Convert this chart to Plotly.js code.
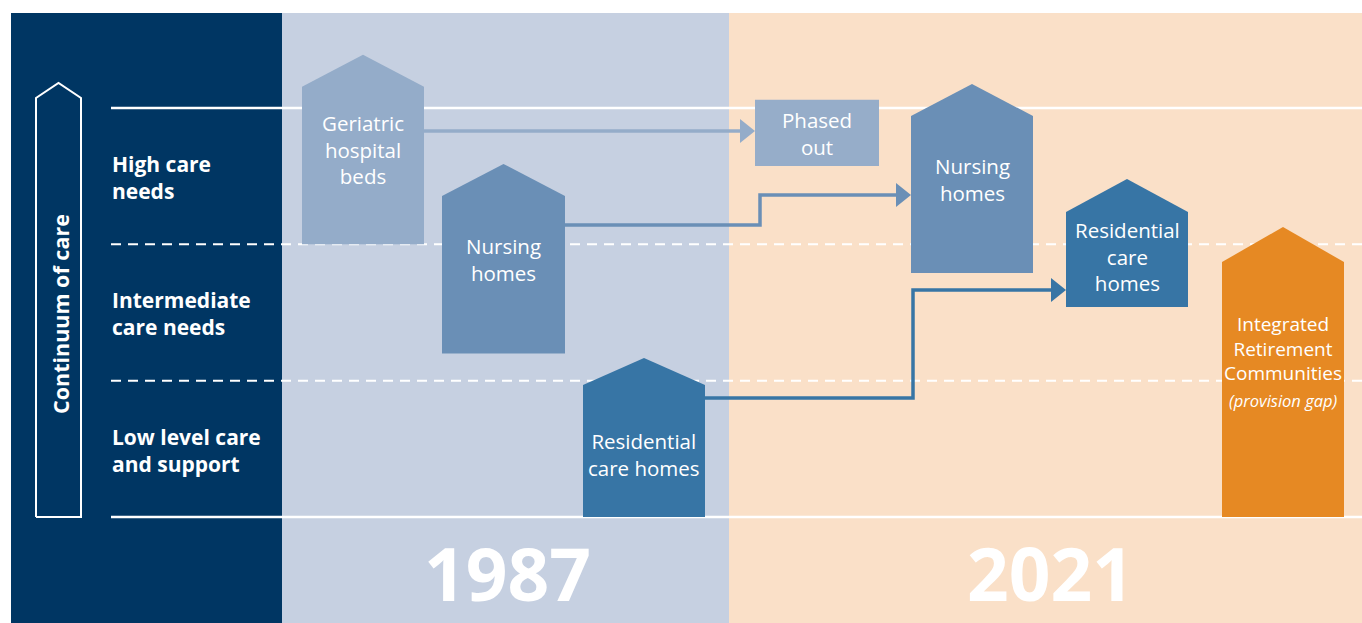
<!DOCTYPE html>
<html>
<head>
<meta charset="utf-8">
<script src="https://cdn.plot.ly/plotly-3.0.1.min.js"></script>
<style>html,body{margin:0;padding:0;background:#fff;}#chart{width:1362px;height:623px;}</style>
</head>
<body>
<div id="chart"></div>
<script>
// ---------- DATA (care-need levels: 0 = low, 3 = high) ----------
const careLevels = ["Low level care<br>and support", "Intermediate<br>care needs", "High care<br>needs"];
const eras = ["1987", "2021"];
const provision = ["Geriatric<br>hospital<br>beds", "Nursing<br>homes", "Residential<br>care homes",
                   "Phased<br>out", "Nursing<br>homes", "Residential<br>care<br>homes",
                   "Integrated<br>Retirement<br>Communities"];
const provisionNote = ["", "", "", "", "", "", "(provision gap)"];
const provisionEra = ["1987", "1987", "1987", "2021", "2021", "2021", "2021"];
const needFrom = [2.0, 1.2, 0.0, 2.575, 1.79, 1.54, 0.0];
const needTo   = [3.39, 2.59, 1.166, 3.06, 3.176, 2.479, 2.127];
const flowFrom = [0, 1, 2];
const flowTo   = [3, 4, 5];

// ---------- LAYOUT / STYLE ----------
const W = 1362, H = 623;
const unit = (517 - 108) / 3;            // px per care level
const yMin = -(H - 517) / unit, yMax = 517 / unit;
const pxY = v => v / unit;               // px length -> level length
const navy = "rgb(0,54,99)", paleBlue = "rgb(198,208,225)", peach = "rgb(250,224,200)";
const colX = [363, 503.5, 644, 817, 972, 1127, 1283];
const colW = [122, 123, 122, 124, 122, 122, 122];
const isRoofed = [true, true, true, false, true, true, true];
const fillCol = ["rgb(148,172,201)", "rgb(106,143,182)", "rgb(55,117,165)", "rgb(150,173,201)",
                 "rgb(106,143,182)", "rgb(55,117,165)", "rgb(230,137,35)"];
const roofH = [32, 32, 27, 0, 32, 33, 35];
const textY = [2.692, 1.889, 0.458, 2.813, 2.476, 1.911, 1.235];
const flowStartY = [2.831, 2.142, 0.873];
const flowEndY   = [2.831, 2.362, 1.665];
const flowTurnX  = [null, 760, 913];
const eraX = [507, 1050];
const font = "Open Sans, Noto Sans, sans-serif";

const traces = [];
const shapes = [];
const ann = [];

// panels
shapes.push({type:"rect", layer:"below", xref:"x", yref:"y", x0:11, x1:282, y0:yMin-1, y1:(517-13)/unit, fillcolor:navy, line:{width:0}});
shapes.push({type:"rect", layer:"below", xref:"x", yref:"y", x0:282, x1:729, y0:yMin-1, y1:(517-13)/unit, fillcolor:paleBlue, line:{width:0}});
shapes.push({type:"rect", layer:"below", xref:"x", yref:"y", x0:729, x1:W+5, y0:yMin-1, y1:(517-13)/unit, fillcolor:peach, line:{width:0}});

// level lines
for (let lv = 0; lv <= careLevels.length; lv++) {
  const solid = (lv === 0 || lv === careLevels.length);
  traces.push({type:"scatter", mode:"lines", x:[111, W+5], y:[lv, lv], hoverinfo:"skip",
    line:{color:"white", width:solid ? 2.5 : 2, dash:solid ? "solid" : "10px,7px"}});
}

// continuum arrow outline
traces.push({type:"scatter", mode:"lines", hoverinfo:"skip",
  x:[36, 36, 58.5, 81, 81, 36], y:[0, pxY(517-98), pxY(517-83), pxY(517-98), 0, 0],
  line:{color:"white", width:2}});

// flows (arrows)
flowFrom.forEach((s, i) => {
  const t = flowTo[i];
  const xs = colX[s] + colW[s] / 2, xe = colX[t] - colW[t] / 2;
  const ah = 15;
  let px, py;
  if (flowTurnX[i] === null) { px = [xs, xe - ah + 1]; py = [flowStartY[i], flowEndY[i]]; }
  else { px = [xs, flowTurnX[i], flowTurnX[i], xe - ah + 1]; py = [flowStartY[i], flowStartY[i], flowEndY[i], flowEndY[i]]; }
  traces.push({type:"scatter", mode:"lines", x:px, y:py, hoverinfo:"skip",
    line:{color:fillCol[s], width:3.5, shape:"linear"}});
  traces.push({type:"scatter", mode:"lines", fill:"toself", fillcolor:fillCol[s], hoverinfo:"skip",
    x:[xe - ah, xe, xe - ah, xe - ah], y:[flowEndY[i] + pxY(12), flowEndY[i], flowEndY[i] - pxY(12), flowEndY[i] + pxY(12)],
    line:{width:0, color:fillCol[s]}});
});

// houses / boxes
provision.forEach((name, i) => {
  const l = colX[i] - colW[i] / 2, r = colX[i] + colW[i] / 2;
  const b = needFrom[i], top = needTo[i];
  let xs, ys;
  if (isRoofed[i]) {
    const sh = top - pxY(roofH[i]);
    xs = [l, l, colX[i], r, r, l]; ys = [b, sh, top, sh, b, b];
  } else {
    xs = [l, l, r, r, l]; ys = [b, top, top, b, b];
  }
  traces.push({type:"scatter", mode:"lines", fill:"toself", fillcolor:fillCol[i], x:xs, y:ys,
    line:{width:0, color:fillCol[i]}, hoverinfo:"skip"});
  const small = provisionNote[i] !== "";
  ann.push({xref:"x", yref:"y", x:colX[i], y:textY[i], text:name, showarrow:false,
    xanchor:"center", yanchor:"middle", align:"center",
    font:{family:font, size:small ? 19 : 20.5, color:"white"}});
  if (small) {
    ann.push({xref:"x", yref:"y", x:colX[i], y:textY[i] - pxY(52), text:"<i>" + provisionNote[i] + "</i>", showarrow:false,
      xanchor:"center", yanchor:"middle", font:{family:font, size:16.5, color:"white"}});
  }
});

// row labels
careLevels.forEach((lab, i) => {
  ann.push({xref:"x", yref:"y", x:110, y:i + 0.49, text:"<b>" + lab + "</b>", showarrow:false,
    xanchor:"left", yanchor:"middle", align:"left", font:{family:font, size:21, color:"white"}});
});

// continuum label
ann.push({xref:"x", yref:"y", x:60, y:pxY(517-314), text:"<b>Continuum of care</b>", textangle:-90, showarrow:false,
  xanchor:"center", yanchor:"middle", font:{family:font, size:21.5, color:"white"}});

// era labels
eras.forEach((e, i) => {
  ann.push({xref:"x", yref:"y", x:eraX[i], y:pxY(517-572), text:"<b>" + e + "</b>", showarrow:false,
    xanchor:"center", yanchor:"middle", font:{family:font, size:73, color:"white"}});
});

const layout = {
  width:W, height:H, margin:{l:0, r:0, t:0, b:0, pad:0},
  paper_bgcolor:"white", plot_bgcolor:"white", showlegend:false, hovermode:false,
  xaxis:{range:[0, W], visible:false, fixedrange:true},
  yaxis:{range:[yMin, yMax], visible:false, fixedrange:true},
  shapes:shapes, annotations:ann
};
Plotly.newPlot("chart", traces, layout, {staticPlot:true, displayModeBar:false});
</script>
</body>
</html>
